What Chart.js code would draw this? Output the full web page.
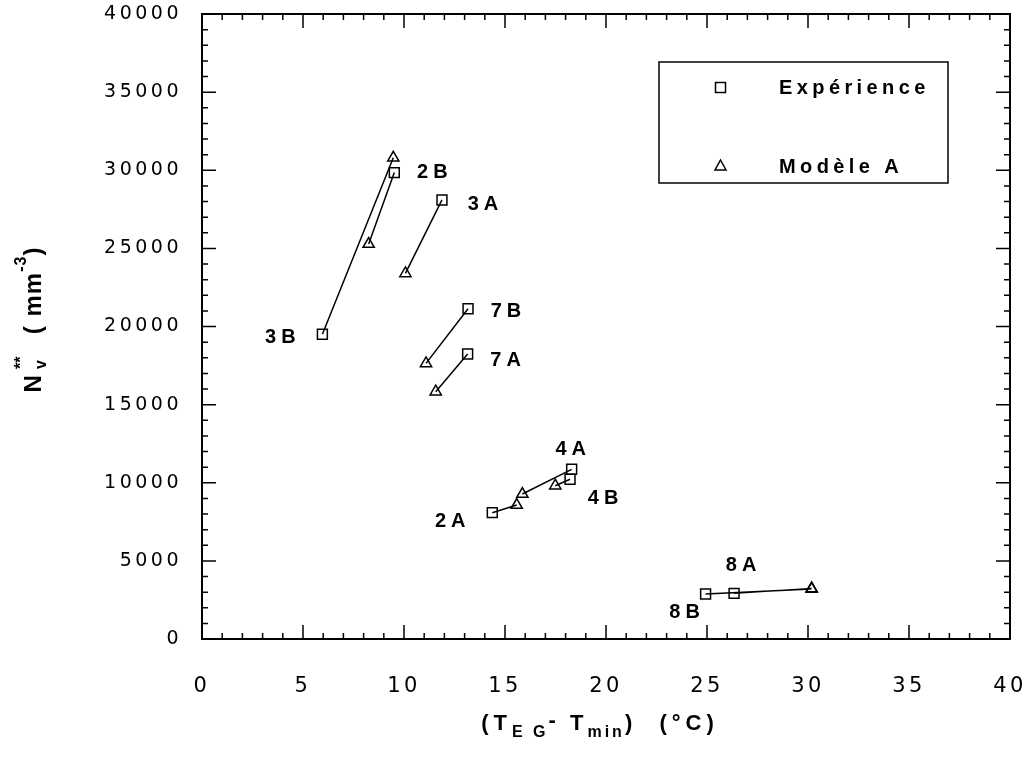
<!DOCTYPE html>
<html>
<head>
<meta charset="utf-8">
<script src="https://cdn.jsdelivr.net/npm/chart.js@4/dist/chart.umd.min.js"></script>
<style>
  html, body { margin: 0; padding: 0; background: #fff; }
</style>
</head>
<body>
<canvas id="grafico" width="1029" height="760"></canvas>
<script>
// echantillons : un carré (expérience) relié à un triangle (modèle A)
const echantillons = ['3B', '2B', '3A', '7B', '7A', '4A', '4B', '2A', '8A', '8B'];
const expX = [5.96, 9.52, 11.88, 13.17, 13.15, 18.30, 18.22, 14.37, 26.34, 24.93];
const expY = [19500, 29850, 28100, 21140, 18240, 10860, 10220, 8085, 2920, 2880];
const modX = [9.47, 8.25, 10.07, 11.09, 11.57, 15.86, 17.49, 15.58, 30.18, 30.18];
const modY = [30800, 25280, 23400, 17640, 15830, 9280, 9810, 8576, 3240, 3200];

const ticksX = [0, 5, 10, 15, 20, 25, 30, 35, 40];
const ticksY = [0, 5000, 10000, 15000, 20000, 25000, 30000, 35000, 40000];

// décalage des étiquettes par rapport au carré, en pixels
const decalages = [[-42, 3], [38, 0], [41, 5], [38, 3], [38, 6], [-1, -20], [33, 19], [-42, 9], [7, -28], [-21, 18]];

var liaisons = [];
expX.forEach(function (x, i) {
    liaisons.push({x: x, y: expY[i]});
    liaisons.push({x: modX[i], y: modY[i]});
    liaisons.push({x: modX[i], y: null});
});

function ecrire(ctx, morceaux, x, y) {
    // morceaux : [texte, police, decalage vertical, espacement, empilé]
    ctx.textBaseline = 'middle';
    ctx.textAlign = 'left';
    var total = 0;
    morceaux.forEach(function (m) {
        ctx.font = m[1];
        ctx.letterSpacing = (m[3] || 0) + 'px';
        if (!m[4]) total += ctx.measureText(m[0]).width;
    });
    var cx = x - total / 2;
    var dernier = 0;
    morceaux.forEach(function (m) {
        ctx.font = m[1];
        ctx.letterSpacing = (m[3] || 0) + 'px';
        if (m[4]) {
            ctx.fillText(m[0], cx - dernier, y + m[2]);
        } else {
            ctx.fillText(m[0], cx, y + m[2]);
            dernier = ctx.measureText(m[0]).width;
            cx += dernier;
        }
    });
    ctx.letterSpacing = '0px';
}

const cadre = {
    id: 'cadre',
    beforeDraw: function (chart) {
        chart.ctx.letterSpacing = '3.5px';
    },
    afterDraw: function (chart) {
        var ctx = chart.ctx;
        var a = chart.chartArea;
        var sx = chart.scales.x, sy = chart.scales.y;
        ctx.save();
        ctx.letterSpacing = '0px';
        ctx.strokeStyle = '#000';
        ctx.fillStyle = '#000';

        // graduations vers l'intérieur sur les quatre côtés
        ctx.lineWidth = 1.5;
        ctx.beginPath();
        for (var v = 1; v < 40; v++) {
            var p = sx.getPixelForValue(v);
            var l = (v % 5 === 0) ? 14 : 6;
            ctx.moveTo(p, a.bottom); ctx.lineTo(p, a.bottom - l);
            ctx.moveTo(p, a.top); ctx.lineTo(p, a.top + l);
        }
        for (var w = 1000; w < 40000; w += 1000) {
            var q = sy.getPixelForValue(w);
            var m = (w % 5000 === 0) ? 14 : 6;
            ctx.moveTo(a.left, q); ctx.lineTo(a.left + m, q);
            ctx.moveTo(a.right, q); ctx.lineTo(a.right - m, q);
        }
        ctx.stroke();

        ctx.lineWidth = 2;
        ctx.strokeRect(a.left, a.top, a.right - a.left, a.bottom - a.top);

        // étiquettes des échantillons
        ctx.font = 'bold 20px "Liberation Sans"';
        ctx.letterSpacing = '5px';
        ctx.textAlign = 'center';
        ctx.textBaseline = 'middle';
        echantillons.forEach(function (nom, i) {
            var px = sx.getPixelForValue(expX[i]) + decalages[i][0] + 2.5;
            var py = sy.getPixelForValue(expY[i]) + decalages[i][1];
            ctx.fillText(nom, px, py);
        });

        // légende
        var lx = a.left + 457, ly = a.top + 48;
        ctx.lineWidth = 1.5;
        ctx.strokeRect(lx, ly, 289, 121);
        ctx.strokeRect(lx + 56.5, ly + 20.5, 10, 10);
        ctx.beginPath();
        ctx.moveTo(lx + 61.5, ly + 98);
        ctx.lineTo(lx + 67, ly + 108);
        ctx.lineTo(lx + 56, ly + 108);
        ctx.closePath();
        ctx.stroke();
        ctx.textAlign = 'left';
        ctx.font = 'bold 20px "Liberation Sans"';
        ctx.letterSpacing = '4.4px';
        ctx.fillText('Expérience', lx + 120, ly + 26);
        ctx.fillText('Modèle A', lx + 120, ly + 105);

        // titre de l'axe x
        var gras = 'bold 22px "Liberation Sans"';
        var petit = 'bold 16px "Liberation Sans"';
        ecrire(ctx, [
            ['(T', gras, 0, 5],
            ['E G', petit, 9, 3],
            ['-', gras, -3, 4],
            [' T', gras, 0, 4],
            ['min', petit, 9, 3],
            [')  (°C)', gras, 0, 5]
        ], (a.left + a.right) / 2 - 6, 724);

        // titre de l'axe y
        var grasY = 'bold 24px "Liberation Sans"';
        ctx.save();
        ctx.translate(34, 320);
        ctx.rotate(-Math.PI / 2);
        ecrire(ctx, [
            ['N', grasY, 0, 6],
            ['v', petit, 8, 0],
            ['**', petit, -12, 0, true],
            ['   (', grasY, 0, 2],
            [' mm', grasY, 0, 1],
            ['-3', petit, -12, 1],
            [')', grasY, 0, 0]
        ], 0, 0);
        ctx.restore();

        ctx.restore();
    }
};

new Chart(document.getElementById('grafico').getContext('2d'), {
    type: 'scatter',
    data: {
        datasets: [{
            label: 'liaisons',
            data: liaisons,
            showLine: true,
            spanGaps: false,
            borderColor: '#000',
            borderWidth: 1.5,
            pointRadius: 0,
            order: 3
        }, {
            label: 'Expérience',
            data: expX.map(function (x, i) { return {x: x, y: expY[i]}; }),
            pointStyle: 'rect',
            pointRadius: 7,
            borderColor: '#000',
            backgroundColor: 'rgba(0,0,0,0)',
            borderWidth: 1.5,
            order: 1
        }, {
            label: 'Modèle A',
            data: modX.map(function (x, i) { return {x: x, y: modY[i]}; }),
            pointStyle: 'triangle',
            pointRadius: 6.5,
            borderColor: '#000',
            backgroundColor: 'rgba(0,0,0,0)',
            borderWidth: 1.5,
            order: 2
        }]
    },
    options: {
        responsive: false,
        animation: false,
        devicePixelRatio: 1,
        layout: { padding: { top: 14, right: 19, left: 0, bottom: 0 } },
        plugins: {
            legend: { display: false },
            tooltip: { enabled: false }
        },
        scales: {
            x: {
                type: 'linear',
                min: 0,
                max: 40,
                grid: { display: false, drawTicks: false },
                border: { display: false },
                afterBuildTicks: function (s) { s.ticks = ticksX.map(function (v) { return {value: v}; }); },
                afterFit: function (s) { s.height = 121; s.paddingLeft = 0; s.paddingRight = 0; },
                ticks: {
                    color: '#000',
                    padding: 35,
                    maxRotation: 0,
                    font: { family: 'DejaVu Sans', size: 21 }
                }
            },
            y: {
                type: 'linear',
                min: 0,
                max: 40000,
                grid: { display: false, drawTicks: false },
                border: { display: false },
                afterBuildTicks: function (s) { s.ticks = ticksY.map(function (v) { return {value: v}; }); },
                afterFit: function (s) { s.width = 202; s.paddingTop = 0; s.paddingBottom = 0; },
                ticks: {
                    color: '#000',
                    padding: 20,
                    font: { family: 'DejaVu Sans', size: 19 },
                    callback: function (v) { return String(v); }
                }
            }
        }
    },
    plugins: [cadre]
});
</script>
</body>
</html>
